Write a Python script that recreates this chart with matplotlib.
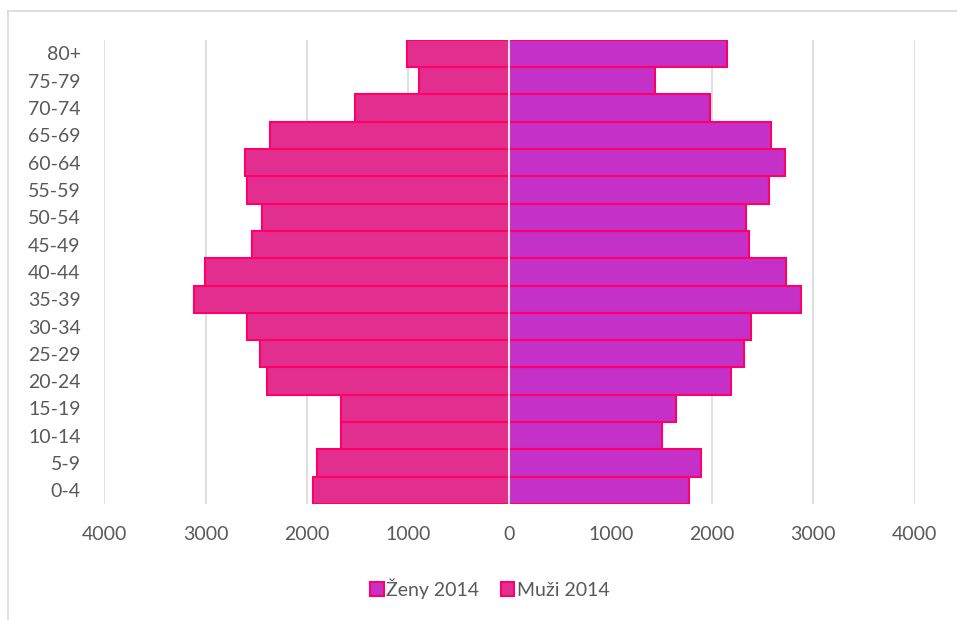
import matplotlib
matplotlib.use("Agg")
import matplotlib.pyplot as plt
from matplotlib.patches import Patch
from matplotlib.lines import Line2D

plt.rcParams["font.family"] = ["Lato", "DejaVu Sans"]

age_groups = ["0-4", "5-9", "10-14", "15-19", "20-24", "25-29", "30-34", "35-39",
              "40-44", "45-49", "50-54", "55-59", "60-64", "65-69", "70-74", "75-79", "80+"]
zeny_2014 = [1772, 1887, 1509, 1644, 2188, 2316, 2388, 2881,
             2726, 2365, 2339, 2559, 2717, 2579, 1978, 1437, 2149]
muzi_2014 = [1942, 1903, 1667, 1667, 2392, 2467, 2592, 3110,
             3009, 2543, 2448, 2592, 2611, 2365, 1526, 893, 1011]
x_ticks = [-4000, -3000, -2000, -1000, 0, 1000, 2000, 3000, 4000]

women_color = "#C430C8"
men_color = "#E22E8E"
edge_color = "#FF0066"
text_color = "#595959"
grid_color = "#D9D9D9"

fig = plt.figure(figsize=(9.57, 6.2), dpi=100)
ax = fig.add_axes([0.109, 0.187, 0.8467, 0.749])

y = list(range(len(age_groups)))
ax.barh(y, zeny_2014, height=1.0, color=women_color, edgecolor=edge_color, linewidth=1.5, zorder=2)
ax.barh(y, [-v for v in muzi_2014], height=1.0, color=men_color, edgecolor=edge_color, linewidth=1.5, zorder=2)
ax.axvline(0, color="#E6E6E6", lw=1.5, zorder=3)

ax.set_xlim(-4000, 4000)
ax.set_ylim(-0.5, len(age_groups) - 0.5)
ax.set_xticks(x_ticks)
ax.set_xticklabels([str(abs(t)) for t in x_ticks])
ax.set_yticks(y)
ax.set_yticklabels(age_groups)
ax.tick_params(axis="both", length=0, labelsize=14, colors=text_color)
ax.tick_params(axis="x", pad=16)
ax.tick_params(axis="y", pad=17)
ax.xaxis.grid(True, color=grid_color, lw=1.2, zorder=0)
ax.set_axisbelow(True)
for s in ax.spines.values():
    s.set_visible(False)

handles = [
    Patch(facecolor=women_color, edgecolor=edge_color, linewidth=1.5, label="Ženy 2014"),
    Patch(facecolor=men_color, edgecolor=edge_color, linewidth=1.5, label="Muži 2014"),
]
fig.legend(handles=handles, loc="center", bbox_to_anchor=(0.512, 0.051), ncol=2, frameon=False,
           fontsize=14, labelcolor=text_color, handlelength=0.7, handleheight=0.7,
           handletextpad=0.15, columnspacing=1.1)

# chart border
fig.add_artist(Line2D([8 / 957, 8 / 957], [0, 1 - 11 / 620], color=grid_color, lw=1.2))
fig.add_artist(Line2D([8 / 957, 1], [1 - 11 / 620, 1 - 11 / 620], color=grid_color, lw=1.2))

fig.savefig("out.png", dpi=100, facecolor="white")
